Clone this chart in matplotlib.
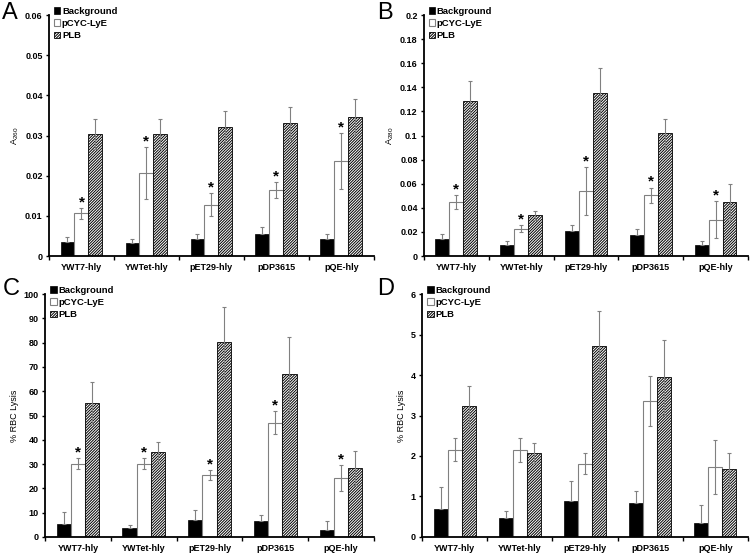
import numpy as np
import matplotlib.pyplot as plt
from matplotlib.ticker import FuncFormatter, MultipleLocator

plt.rcParams['font.family'] = ['Liberation Sans', 'DejaVu Sans']
plt.rcParams['mathtext.fontset'] = 'custom'
plt.rcParams['mathtext.rm'] = 'Liberation Sans'
plt.rcParams['mathtext.default'] = 'regular'
plt.rcParams['hatch.linewidth'] = 0.7

strains = ['YWT7-hly', 'YWTet-hly', 'pET29-hly', 'pDP3615', 'pQE-hly']
series = ['Background', 'pCYC-LyE', 'PLB']

# A - A260
a_bg = [0.0036, 0.0033, 0.0043, 0.0055, 0.0043]
a_bg_err = [0.0011, 0.0010, 0.0013, 0.0016, 0.0013]
a_cyc = [0.0106, 0.0207, 0.0128, 0.0165, 0.0236]
a_cyc_err = [0.0014, 0.0065, 0.0029, 0.0020, 0.0070]
a_plb = [0.0304, 0.0304, 0.0321, 0.0331, 0.0347]
a_plb_err = [0.0038, 0.0038, 0.0040, 0.0041, 0.0044]

# B - A280
b_bg = [0.0144, 0.0094, 0.0208, 0.0175, 0.0094]
b_bg_err = [0.0042, 0.0031, 0.0052, 0.0049, 0.0028]
b_cyc = [0.0446, 0.0227, 0.0540, 0.0504, 0.0302]
b_cyc_err = [0.0058, 0.0028, 0.0202, 0.0064, 0.0152]
b_plb = [0.1288, 0.0338, 0.1355, 0.1017, 0.0446]
b_plb_err = [0.0161, 0.0039, 0.0202, 0.0124, 0.0150]

# C - % RBC lysis
c_bg = [5.5, 3.8, 7.0, 6.6, 2.9]
c_bg_err = [4.7, 1.3, 4.1, 2.6, 3.6]
c_cyc = [30.2, 30.1, 25.4, 47.0, 24.2]
c_cyc_err = [2.4, 2.3, 2.1, 4.8, 5.3]
c_plb = [55.1, 35.0, 80.1, 66.9, 28.4]
c_plb_err = [8.5, 4.1, 14.7, 15.6, 6.9]

# D - % RBC lysis
d_bg = [0.68, 0.47, 0.88, 0.83, 0.35]
d_bg_err = [0.56, 0.17, 0.50, 0.31, 0.44]
d_cyc = [2.16, 2.14, 1.81, 3.36, 1.72]
d_cyc_err = [0.28, 0.30, 0.26, 0.62, 0.67]
d_plb = [3.24, 2.07, 4.72, 3.94, 1.67]
d_plb_err = [0.50, 0.24, 0.86, 0.93, 0.41]


def panel(ax, bg, bg_err, cyc, cyc_err, plb, plb_err, ymax, ystep, ylabel, stars):
    x = np.arange(len(strains))
    w = 0.215
    ekw = dict(ecolor='#808080', elinewidth=0.8, capsize=1.5, capthick=0.8)
    # lower half of the error bar is hidden inside the black bars
    ax.bar(x - w, bg, w, yerr=[np.zeros(len(bg)), bg_err], color='black',
           edgecolor='black', linewidth=0.5, error_kw=ekw, label=series[0])
    ax.bar(x, cyc, w, yerr=cyc_err, color='white', edgecolor='#808080',
           linewidth=0.8, error_kw=ekw, label=series[1])
    ax.bar(x + w, plb, w, yerr=plb_err, color='white', edgecolor='black',
           hatch='////////////', linewidth=0.6, error_kw=ekw, label=series[2])
    if stars:
        for xi, v, e in zip(x, cyc, cyc_err):
            ax.annotate('*', (xi, v + e), xytext=(0, -1), textcoords='offset points',
                        ha='center', va='bottom', fontsize=11, fontweight='bold')

    ax.set_xlim(-0.5, len(strains) - 0.5)
    ax.set_ylim(0, ymax)
    ax.yaxis.set_major_locator(MultipleLocator(ystep))
    ax.yaxis.set_major_formatter(FuncFormatter(lambda v, p: '%g' % round(v, 6)))
    ax.set_xticks(x)
    ax.set_xticklabels(strains)
    ax.set_xticks(np.arange(-0.5, len(strains), 1), minor=True)
    ax.tick_params(axis='x', which='major', length=0, pad=5)
    ax.tick_params(axis='x', which='minor', length=3, width=1, direction='out')
    ax.tick_params(axis='y', length=2.5, width=1, direction='out', pad=2)
    for lab in ax.get_xticklabels() + ax.get_yticklabels():
        lab.set_fontweight('bold')
        lab.set_fontsize(6.5)
    ax.spines['top'].set_visible(False)
    ax.spines['right'].set_visible(False)
    ax.spines['left'].set_linewidth(1.3)
    ax.spines['bottom'].set_linewidth(1.3)
    ax.set_ylabel(ylabel, fontsize=6.5, labelpad=3)
    ax.legend(loc='upper left', bbox_to_anchor=(0.015, 1.035), frameon=False,
              prop={'weight': 'bold', 'size': 6.8}, handlelength=0.7,
              handleheight=0.7, handletextpad=0.15, labelspacing=0.35,
              borderaxespad=0, borderpad=0)


fig = plt.figure(figsize=(7.5, 5.54), dpi=100)
ax_a = fig.add_axes([0.0653, 0.5379, 0.4333, 0.435])
ax_b = fig.add_axes([0.5653, 0.5379, 0.432, 0.435])
ax_c = fig.add_axes([0.060, 0.0307, 0.4387, 0.4386])
ax_d = fig.add_axes([0.5627, 0.0307, 0.4347, 0.4386])

panel(ax_a, a_bg, a_bg_err, a_cyc, a_cyc_err, a_plb, a_plb_err, 0.06, 0.01, 'A$_{260}$', True)
panel(ax_b, b_bg, b_bg_err, b_cyc, b_cyc_err, b_plb, b_plb_err, 0.2, 0.02, 'A$_{280}$', True)
panel(ax_c, c_bg, c_bg_err, c_cyc, c_cyc_err, c_plb, c_plb_err, 100, 10, '% RBC Lysis', True)
panel(ax_d, d_bg, d_bg_err, d_cyc, d_cyc_err, d_plb, d_plb_err, 6, 1, '% RBC Lysis', False)

for letter, (fx, fy) in zip('ABCD', [(0.003, 0.997), (0.503, 0.997), (0.003, 0.499), (0.503, 0.499)]):
    fig.text(fx, fy, letter, fontsize=17, va='top', ha='left')

fig.savefig('out.png', dpi=100)
